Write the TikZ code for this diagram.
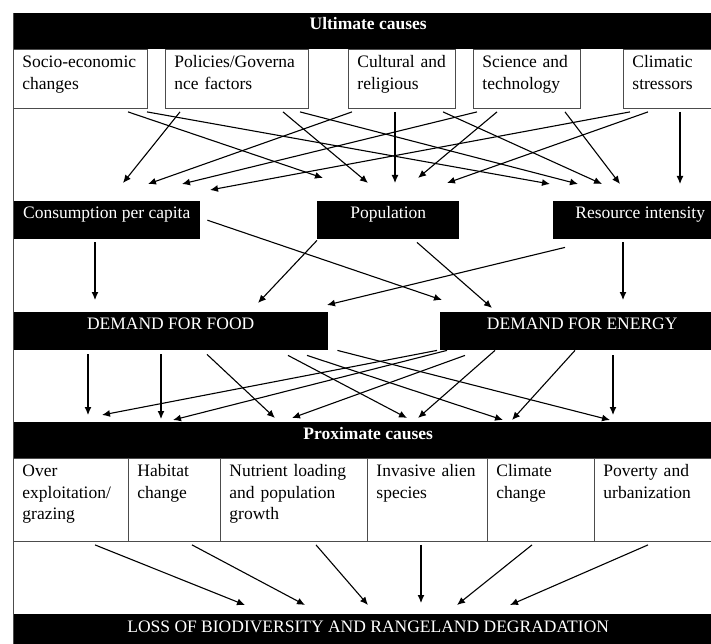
\documentclass[tikz,border=0pt]{standalone}
\usepackage{fontspec}
\setmainfont{Liberation Serif}
\usetikzlibrary{arrows.meta}

\tikzset{
  every node/.style={font=\fontsize{17.5}{21.7}\selectfont},
  bar/.style={fill=black, text=white, inner sep=0pt, anchor=north west},
  cause/.style={draw=black!70, line width=0.9pt, fill=white, inner xsep=9pt,
    inner ysep=0pt, anchor=north west, text height=18pt},
  arr/.style={-{Latex[length=8pt,width=7pt]}, line width=1.1pt},
}

\begin{document}
\begin{tikzpicture}[x=1pt,y=-1pt]
    \useasboundingbox (0,0) rectangle (711,644);
    \clip (0,0) rectangle (711,644);

    \node[bar, minimum width=710pt, text height=16pt, text depth=20pt] (ult) at (13,13) {\textbf{Ultimate causes}};
    \node[cause, text width=116pt, text depth=41pt] (soc) at (13,49) {Socio-economic\\changes};
    \node[cause, text width=125pt, text depth=41pt] (pol) at (165,49) {Policies/Governa\\nce factors};
    \node[cause, text width=89pt, text depth=41pt] (cul) at (348,49) {Cultural and\\religious};
    \node[cause, text width=89pt, text depth=41pt] (sci) at (473,49) {Science and\\technology};
    \node[cause, text width=92pt, text depth=41pt] (cli) at (623,49) {Climatic\\stressors};

    \node[bar, minimum width=187pt, text height=17pt, text depth=21pt] (cpc) at (13,201) {Consumption per capita};
    \node[bar, minimum width=142pt, text height=17pt, text depth=21pt] (pop) at (317,201) {Population};
    \node[bar, minimum width=174pt, text height=17pt, text depth=21pt] (res) at (553,201) {Resource intensity};

    \node[bar, minimum width=315pt, text height=17pt, text depth=21pt] (food) at (13,312) {DEMAND FOR FOOD};
    \node[bar, minimum width=284pt, text height=17pt, text depth=21pt] (enrg) at (440,312) {DEMAND FOR ENERGY};

    \node[bar, minimum width=710pt, text height=17pt, text depth=19pt] (prox) at (13,422) {\textbf{Proximate causes}};
    \node[cause, text width=97pt, text depth=65pt] (over) at (13,458) {Over\\exploitation/\\grazing};
    \node[cause, text width=74pt, text depth=65pt] (hab) at (128,458) {Habitat\\change};
    \node[cause, text width=129pt, text depth=65pt] (nut) at (220,458) {Nutrient loading\\and population\\growth};
    \node[cause, text width=102pt, text depth=65pt] (inv) at (367,458) {Invasive alien\\species};
    \node[cause, text width=89pt, text depth=65pt] (clch) at (487,458) {Climate\\change};
    \node[cause, text width=111pt, text depth=65pt] (pov) at (594,458) {Poverty and\\urbanization};

    \node[bar, minimum width=710pt, text height=18pt, text depth=18pt] (loss) at (13,614) {LOSS OF BIODIVERSITY AND RANGELAND DEGRADATION};

    \draw[line width=0.9pt, black!70] (ult.north west) -- (loss.south west);

    \draw[arr] ([xshift=115pt,yshift=-3pt]soc.south west) -- ([xshift=6pt,yshift=23pt]pop.north west);
    \draw[arr] ([xshift=134pt,yshift=-3pt]soc.south west) -- ([xshift=-3pt,yshift=17pt]res.north west);
    \draw[arr] ([xshift=15pt,yshift=-3pt]pol.south west) -- ([xshift=110pt,yshift=18pt]cpc.north west);
    \draw[arr] ([xshift=118pt,yshift=-3pt]pol.south west) -- ([xshift=51pt,yshift=18pt]pop.north west);
    \draw[arr] ([xshift=135pt,yshift=-3pt]pol.south west) -- ([xshift=25pt,yshift=17pt]res.north west);
    \draw[arr] ([xshift=4pt,yshift=-3pt]cul.south west) -- ([xshift=135pt,yshift=17pt]cpc.north west);
    \draw[arr] ([xshift=47pt,yshift=-3pt]cul.south west) -- ([xshift=78pt,yshift=18pt]pop.north west);
    \draw[arr] ([xshift=95pt,yshift=-3pt]cul.south west) -- ([xshift=49pt,yshift=17pt]res.north west);
    \draw[arr] ([xshift=4pt,yshift=-3pt]sci.south west) -- ([xshift=169pt,yshift=17pt]cpc.north west);
    \draw[arr] ([xshift=24pt,yshift=-3pt]sci.south west) -- ([xshift=101pt,yshift=23pt]pop.north west);
    \draw[arr] ([xshift=92pt,yshift=-3pt]sci.south west) -- ([xshift=67pt,yshift=17pt]res.north west);
    \draw[arr] ([xshift=7pt,yshift=-3pt]cli.south west) -- ([xshift=197pt,yshift=11pt]cpc.north west);
    \draw[arr] ([xshift=25pt,yshift=-3pt]cli.south west) -- ([xshift=130pt,yshift=18pt]pop.north west);
    \draw[arr] ([xshift=57pt,yshift=-3pt]cli.south west) -- ([xshift=127pt,yshift=17pt]res.north west);

    \draw[arr] ([xshift=82pt,yshift=-3pt]cpc.south west) -- ([xshift=82pt,yshift=12pt]food.north west);
    \draw[arr] ([xshift=7pt]cpc.east) -- ([xshift=2pt,yshift=12pt]enrg.north west);
    \draw[arr] ([yshift=-1pt]pop.south west) -- ([xshift=245pt,yshift=9pt]food.north west);
    \draw[arr] ([xshift=100pt,yshift=-3pt]pop.south west) -- ([xshift=52pt,yshift=4pt]enrg.north west);
    \draw[arr] ([xshift=12pt,yshift=-8pt]res.south west) -- ([xshift=314pt,yshift=7pt]food.north west);
    \draw[arr] ([xshift=70pt,yshift=-3pt]res.south west) -- ([xshift=183pt,yshift=12pt]enrg.north west);

    \draw[arr] ([xshift=75pt,yshift=-4pt]food.south west) -- ([xshift=75pt,yshift=7pt]prox.north west);
    \draw[arr] ([xshift=148pt,yshift=-4pt]food.south west) -- ([xshift=148pt,yshift=3pt]prox.north west);
    \draw[arr] ([xshift=194pt,yshift=-4pt]food.south west) -- ([xshift=262pt,yshift=4pt]prox.north west);
    \draw[arr] ([xshift=275pt,yshift=-5pt]food.south west) -- ([xshift=394pt,yshift=4pt]prox.north west);
    \draw[arr] ([xshift=294pt,yshift=-5pt]food.south west) -- ([xshift=490pt,yshift=2pt]prox.north west);
    \draw[arr] ([xshift=9pt]food.south east) -- ([xshift=597pt,yshift=2pt]prox.north west);
    \draw[arr] ([xshift=-3pt]enrg.south west) -- ([xshift=89pt,yshift=7pt]prox.north west);
    \draw[arr] ([xshift=7pt]enrg.south west) -- ([xshift=160pt,yshift=2pt]prox.north west);
    \draw[arr] ([xshift=25pt,yshift=-5pt]enrg.south west) -- ([xshift=279pt,yshift=4pt]prox.north west);
    \draw[arr] ([xshift=55pt]enrg.south west) -- ([xshift=405pt,yshift=4pt]prox.north west);
    \draw[arr] ([xshift=135pt]enrg.south west) -- ([xshift=499pt,yshift=2pt]prox.north west);
    \draw[arr] ([xshift=173pt,yshift=-5pt]enrg.south west) -- ([xshift=600pt,yshift=7pt]prox.north west);

    \draw[arr] ([xshift=82pt,yshift=-3pt]over.south west) -- ([xshift=232pt,yshift=9pt]loss.north west);
    \draw[arr] ([xshift=64pt,yshift=-3pt]hab.south west) -- ([xshift=292pt,yshift=9pt]loss.north west);
    \draw[arr] ([xshift=96pt,yshift=-3pt]nut.south west) -- ([xshift=355pt,yshift=9pt]loss.north west);
    \draw[arr] ([xshift=54pt,yshift=-3pt]inv.south west) -- ([xshift=408pt,yshift=11pt]loss.north west);
    \draw[arr] ([xshift=45pt,yshift=-3pt]clch.south west) -- ([xshift=444pt,yshift=9pt]loss.north west);
    \draw[arr] ([xshift=54pt,yshift=-3pt]pov.south west) -- ([xshift=497pt,yshift=9pt]loss.north west);
\end{tikzpicture}
\end{document}
